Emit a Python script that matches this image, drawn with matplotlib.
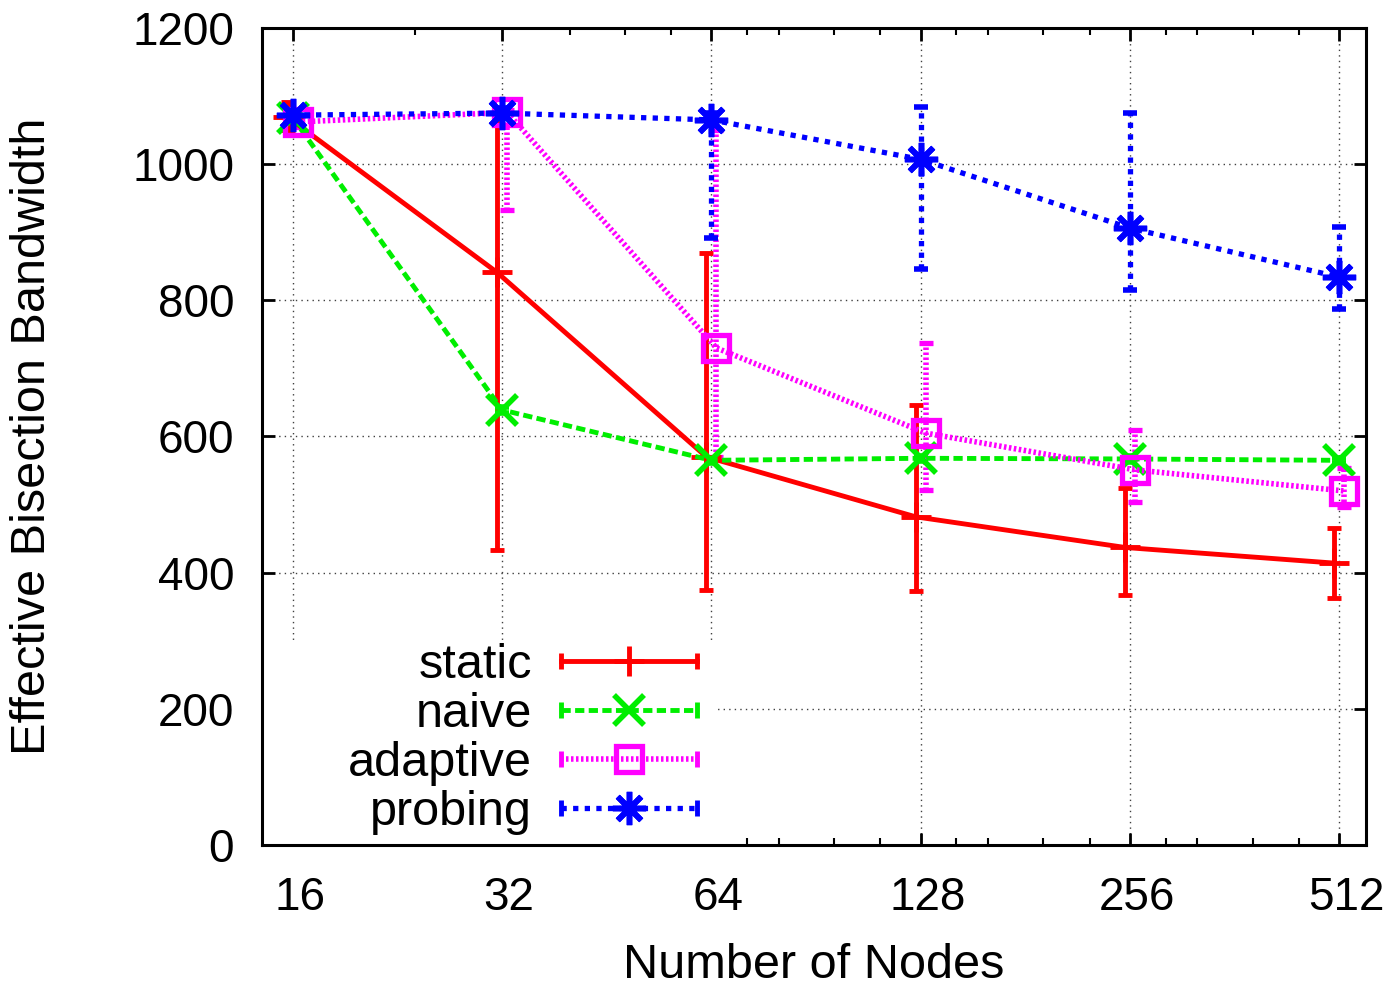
import numpy as np
import matplotlib.pyplot as plt
from matplotlib.lines import Line2D
from matplotlib.patches import Rectangle
from matplotlib.legend_handler import HandlerLine2D
from matplotlib.transforms import ScaledTranslation

plt.rcParams['font.family'] = ['Liberation Sans', 'DejaVu Sans']

# data
nodes = [16, 32, 64, 128, 256, 512]
minor_nodes = [24, 40, 48, 56, 72, 80, 96, 112, 144, 160, 192, 224, 288, 320, 384, 448]

static = [1069, 841, 570, 482, 437, 414]
static_lo = [1050, 433, 374, 373, 367, 363]
static_hi = [1092, 1075, 869, 646, 524, 465]

naive = [1068, 639, 565, 568, 567, 565]
naive_lo = [1064, 635, 561, 564, 563, 561]
naive_hi = [1072, 643, 569, 572, 571, 569]

adaptive = [1062, 1076, 730, 605, 551, 520]
adaptive_lo = [1055, 932, 570, 521, 504, 497]
adaptive_hi = [1070, 1080, 1050, 737, 609, 553]

probing = [1072, 1075, 1065, 1007, 906, 834]
probing_lo = [1065, 1068, 891, 846, 815, 787]
probing_hi = [1080, 1082, 1075, 1084, 1075, 907]

labels = ['static', 'naive', 'adaptive', 'probing']

fig = plt.figure(figsize=(13.9, 9.89), dpi=100)
ax = fig.add_axes([0.1885, 0.1456, 0.7942, 0.8261])

# per-series styling (gnuplot-ish)
styles = [
    dict(color='#ff0000', ls='-', lw=3.5, marker='+', ms=22, mew=3.5, shift=-0.024),
    dict(color='#00ee00', ls=(0, (1.9, 0.9)), lw=3.5, marker='x', ms=21, mew=4.0, shift=0.0),
    dict(color='#ff00ff', ls=(0, (0.45, 0.45)), lw=4.0, marker='s', ms=19, mew=3.8, shift=0.024),
    dict(color='#0000ff', ls=(0, (1.0, 1.2)), lw=3.8, marker=(8, 2, 0), ms=24, mew=4.0, shift=0.0),
]
series = [(static, static_lo, static_hi),
          (naive, naive_lo, naive_hi),
          (adaptive, adaptive_lo, adaptive_hi),
          (probing, probing_lo, probing_hi)]

x = np.array(nodes, dtype=float)
handles = []
hmap = {}
for (y, lo, hi), st in zip(series, styles):
    y = np.array(y, dtype=float)
    err = [y - np.array(lo), np.array(hi) - y]
    xs = x * 2 ** st['shift']
    eb = ax.errorbar(xs, y, yerr=err, color=st['color'], ls=st['ls'], lw=st['lw'],
                     marker=st['marker'], ms=st['ms'], mew=st['mew'], mfc='none',
                     capsize=5, capthick=3.5, elinewidth=st['lw'], zorder=3)
    eb[2][0].set_linestyle(st['ls'])
    cap = Line2D([], [], color=st['color'], ls=st['ls'], lw=st['lw'], marker='|', ms=12, mew=3.5)
    mk = Line2D([], [], color=st['color'], ls='none', marker=st['marker'], ms=st['ms'],
                mew=st['mew'], mfc='none')
    hmap[cap] = HandlerLine2D(numpoints=2, marker_pad=0)
    hmap[mk] = HandlerLine2D(numpoints=1)
    handles.append((cap, mk))

ax.set_xscale('log', base=2)
ax.set_xlim(14.45, 559)
ax.set_ylim(0, 1200)
ax.set_xticks(nodes)
ax.set_xticklabels([str(n) for n in nodes])
ax.set_xticks(minor_nodes, minor=True)
ax.xaxis.set_minor_formatter(plt.NullFormatter())
ax.set_yticks(range(0, 1201, 200))

ax.tick_params(axis='both', which='major', direction='in', length=9, width=2,
               top=True, right=True, labelsize=33)
ax.tick_params(axis='x', which='minor', direction='in', length=5, width=1.5, top=True)
ax.tick_params(axis='x', which='major', pad=22)
ax.tick_params(axis='y', which='major', pad=20)
for lab in ax.get_xticklabels():
    lab.set_transform(lab.get_transform() + ScaledTranslation(0.07, 0, fig.dpi_scale_trans))

for sp in ax.spines.values():
    sp.set_linewidth(2.2)

ax.grid(True, which='major', color='0.25', ls=(0, (1, 3)), lw=1.0, zorder=0)
ax.set_axisbelow(True)

# opaque key area like gnuplot's "set key opaque"
ax.add_patch(Rectangle((0, 0), 0.41, 0.251, transform=ax.transAxes, facecolor='white',
                       edgecolor='none', zorder=1.5))

ax.legend(handles, labels, handler_map=hmap, loc='lower left', bbox_to_anchor=(0.047, -0.029),
          frameon=False, markerfirst=False, fontsize=35, handlelength=2.8,
          handletextpad=0.6, labelspacing=0.08, borderaxespad=0.3)

ax.set_xlabel('Number of Nodes', fontsize=35)
ax.set_ylabel('Effective Bisection Bandwidth', fontsize=35)
ax.xaxis.set_label_coords(0.5, -0.12)
ax.yaxis.set_label_coords(-0.1875, 0.5)

fig.savefig('out.png', dpi=100)
